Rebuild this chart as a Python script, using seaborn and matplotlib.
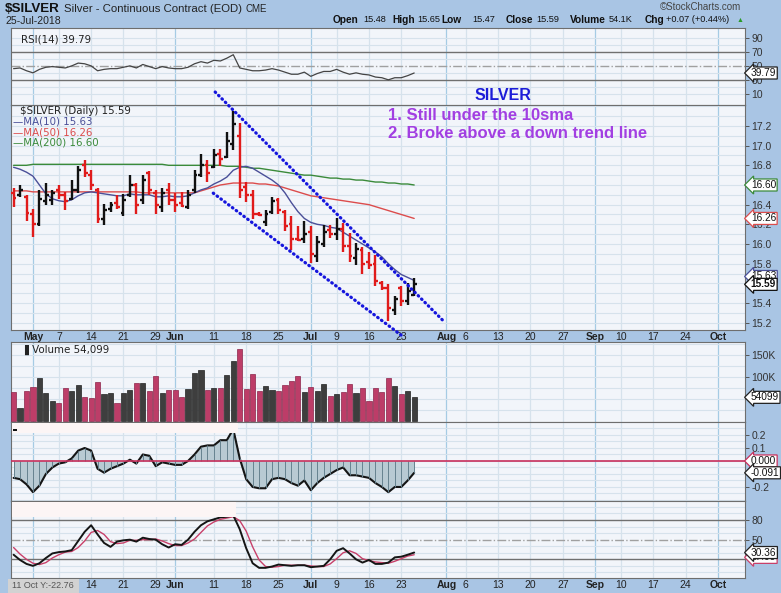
import numpy as np
import pandas as pd
import matplotlib
matplotlib.use("Agg")
import matplotlib.pyplot as plt
import matplotlib.transforms as mtransforms
from matplotlib.patches import Rectangle
import seaborn as sns

sns.set_theme(style="white")
plt.rcParams['font.family'] = ['Liberation Sans', 'DejaVu Sans']

# ---- data (Apr 26 .. Jul 25 2018, daily) ----
opens = [16.52, 16.50, 16.48, 16.30, 16.20, 16.44, 16.45, 16.55, 16.50, 16.46,
         16.55, 16.80, 16.70, 16.55, 16.25, 16.36, 16.42, 16.32, 16.50, 16.60,
         16.45, 16.72, 16.52, 16.38, 16.55, 16.45, 16.42, 16.38, 16.55, 16.70,
         16.80, 16.78, 16.92, 16.88, 17.02, 17.10, 16.58, 16.50, 16.31, 16.22,
         16.33, 16.45, 16.33, 16.20, 16.05, 16.05, 16.12, 15.88, 16.00, 16.14,
         16.10, 16.15, 15.98, 15.86, 15.94, 15.82, 15.80, 15.60, 15.55, 15.33,
         15.55, 15.42, 15.48]
highs = [16.57, 16.60, 16.50, 16.36, 16.55, 16.62, 16.55, 16.60, 16.53, 16.65,
         16.79, 16.85, 16.75, 16.57, 16.41, 16.43, 16.50, 16.51, 16.70, 16.62,
         16.70, 16.74, 16.55, 16.57, 16.62, 16.52, 16.53, 16.55, 16.75, 16.92,
         16.85, 16.97, 16.97, 17.14, 17.35, 17.23, 16.63, 16.55, 16.33, 16.35,
         16.48, 16.47, 16.35, 16.28, 16.18, 16.23, 16.18, 16.08, 16.19, 16.19,
         16.26, 16.21, 16.11, 16.01, 15.97, 15.92, 15.89, 15.62, 15.59, 15.47,
         15.57, 15.60, 15.65]
lows = [16.38, 16.48, 16.23, 16.07, 16.18, 16.40, 16.40, 16.46, 16.35, 16.45,
        16.52, 16.68, 16.55, 16.21, 16.19, 16.33, 16.36, 16.28, 16.48, 16.31,
        16.41, 16.50, 16.31, 16.33, 16.40, 16.33, 16.38, 16.36, 16.52, 16.68,
        16.63, 16.77, 16.79, 16.87, 16.96, 16.47, 16.43, 16.25, 16.28, 16.18,
        16.30, 16.30, 16.13, 15.94, 16.03, 16.01, 15.81, 15.82, 15.97, 16.06,
        16.04, 15.92, 15.82, 15.79, 15.70, 15.75, 15.57, 15.53, 15.22, 15.28,
        15.37, 15.38, 15.47]
closes = [16.47, 16.55, 16.32, 16.20, 16.46, 16.50, 16.52, 16.50, 16.44, 16.55,
          16.75, 16.72, 16.60, 16.25, 16.35, 16.40, 16.38, 16.45, 16.60, 16.40,
          16.65, 16.55, 16.40, 16.52, 16.45, 16.40, 16.39, 16.50, 16.70, 16.80,
          16.72, 16.90, 16.86, 17.05, 17.22, 16.55, 16.50, 16.30, 16.29, 16.31,
          16.44, 16.35, 16.18, 16.05, 16.04, 16.10, 15.90, 16.02, 16.12, 16.10,
          16.15, 15.98, 15.88, 15.95, 15.80, 15.79, 15.62, 15.55, 15.35, 15.44,
          15.42, 15.52, 15.59]
up_day = [0, 1, 0, 0, 1, 1, 1, 0, 0, 1, 1, 0, 0, 0, 1, 1, 0, 1, 1, 0,
          1, 0, 0, 1, 0, 0, 0, 1, 1, 1, 0, 1, 0, 1, 1, 0, 0, 0, 0, 1,
          1, 0, 0, 0, 0, 1, 0, 1, 1, 0, 1, 0, 0, 1, 0, 0, 0, 0, 0, 1,
          0, 1, 1]
volume_k = [66.7, 30, 69, 77, 97, 65, 45, 42, 76, 69, 82, 55, 52, 89, 61, 63, 42, 63,
            71, 86, 86, 69, 102, 63, 71, 71, 55, 73, 109, 117, 71, 75, 75, 105, 136,
            163, 73, 107, 69, 79, 71, 69, 82, 92, 102, 67, 77, 69, 84, 57, 61, 67, 84,
            63, 75, 45, 75, 67, 98, 79, 61, 69, 54.1]
ma10 = [16.78, 16.76, 16.73, 16.69, 16.60, 16.51, 16.46, 16.44, 16.43, 16.45,
        16.49, 16.52, 16.53, 16.52, 16.51, 16.50, 16.49, 16.49, 16.51, 16.50,
        16.50, 16.50, 16.48, 16.48, 16.49, 16.48, 16.48, 16.49, 16.52, 16.55,
        16.57, 16.61, 16.64, 16.68, 16.75, 16.78, 16.79, 16.77, 16.73, 16.69,
        16.65, 16.60, 16.52, 16.42, 16.33, 16.26, 16.22, 16.20, 16.19, 16.17,
        16.16, 16.12, 16.08, 16.04, 16.00, 15.96, 15.92, 15.87, 15.80, 15.74,
        15.69, 15.66, 15.63]
ma50 = [16.54, 16.54, 16.54, 16.53, 16.53, 16.53, 16.53, 16.53, 16.53, 16.53,
        16.53, 16.53, 16.53, 16.53, 16.53, 16.53, 16.53, 16.53, 16.53, 16.53,
        16.52, 16.52, 16.52, 16.52, 16.52, 16.52, 16.52, 16.52, 16.52, 16.54,
        16.56, 16.58, 16.60, 16.61, 16.62, 16.62, 16.62, 16.62, 16.61, 16.61,
        16.60, 16.59, 16.57, 16.55, 16.53, 16.51, 16.49, 16.48, 16.47, 16.46,
        16.45, 16.44, 16.43, 16.42, 16.41, 16.40, 16.38, 16.36, 16.34, 16.32,
        16.30, 16.28, 16.26]
ma200 = [16.80, 16.80, 16.80, 16.81, 16.81, 16.81, 16.81, 16.81, 16.81, 16.81,
         16.81, 16.81, 16.81, 16.81, 16.81, 16.81, 16.81, 16.81, 16.81, 16.81,
         16.81, 16.81, 16.81, 16.81, 16.80, 16.80, 16.80, 16.80, 16.80, 16.80,
         16.80, 16.80, 16.80, 16.79, 16.79, 16.79, 16.78, 16.77, 16.77, 16.76,
         16.75, 16.74, 16.73, 16.72, 16.71, 16.70, 16.70, 16.69, 16.68, 16.67,
         16.67, 16.66, 16.66, 16.65, 16.65, 16.64, 16.63, 16.63, 16.62, 16.62,
         16.61, 16.61, 16.60]
rsi = [46, 47, 43, 40, 45, 48, 49, 48, 47, 50, 54, 53, 50, 43, 45, 46, 46, 48, 50, 47,
       52, 49, 46, 49, 47, 46, 46, 48, 53, 56, 54, 58, 57, 61, 66, 47, 45, 43, 43, 44,
       46, 44, 41, 38, 38, 41, 35, 39, 42, 42, 45, 41, 38, 40, 38, 37, 34, 33, 30, 33,
       33, 36, 39.79]
osc = [-0.13, -0.14, -0.18, -0.24, -0.19, -0.10, -0.05, -0.02, -0.01, 0.02, 0.08, 0.10,
       0.08, -0.06, -0.09, -0.06, -0.04, -0.02, 0.01, -0.02, 0.05, 0.04, -0.04, -0.01,
       -0.02, -0.03, -0.03, 0.00, 0.05, 0.11, 0.12, 0.12, 0.16, 0.16, 0.245, 0.02, -0.14,
       -0.20, -0.21, -0.21, -0.14, -0.13, -0.14, -0.17, -0.19, -0.15, -0.225, -0.17, -0.13,
       -0.10, -0.07, -0.05, -0.11, -0.11, -0.12, -0.13, -0.17, -0.20, -0.24, -0.20, -0.20,
       -0.15, -0.091]
stoch_k = [27, 19, 13, 10, 14, 22, 29, 31, 32, 34, 48, 62, 72, 58, 45, 39, 47, 49, 50, 47,
           53, 51, 50, 43, 38, 43, 42, 50, 62, 72, 78, 81, 84, 85, 87, 66, 37, 14, 7, 7,
           9, 12, 11, 10, 11, 11, 8, 9, 10, 20, 33, 37, 29, 20, 15, 19, 13, 13, 15, 23,
           24, 27, 30.36]
stoch_d = [38, 28, 20, 14, 12, 15, 22, 27, 31, 32, 38, 48, 61, 64, 58, 47, 44, 45, 49, 49,
           50, 50, 51, 48, 44, 41, 41, 45, 51, 61, 71, 77, 81, 83, 85, 79, 63, 39, 19, 9,
           8, 9, 11, 11, 11, 11, 10, 9, 9, 13, 21, 30, 33, 29, 21, 18, 16, 15, 14, 17,
           21, 25, 27]

tick_dates = ["2018-05-01", "2018-05-07", "2018-05-14", "2018-05-21", "2018-05-29",
              "2018-06-01", "2018-06-11", "2018-06-18", "2018-06-25", "2018-07-02",
              "2018-07-09", "2018-07-16", "2018-07-23", "2018-08-01", "2018-08-06",
              "2018-08-13", "2018-08-20", "2018-08-27", "2018-09-04", "2018-09-10",
              "2018-09-17", "2018-09-24", "2018-10-01"]
tick_labels = ["May", "7", "14", "21", "29", "Jun", "11", "18", "25", "Jul", "9", "16",
               "23", "Aug", "6", "13", "20", "27", "Sep", "10", "17", "24", "Oct"]
holidays = ["2018-05-28", "2018-07-04", "2018-09-03"]

# trend channel drawn on the chart (bar index, price)
upper_line = ([31.2, 66.6], [17.545, 15.213])
lower_line = ([30.9, 60.1], [16.517, 15.068])

# ---- styling ----
BG = '#a9c5e4'
FACE = '#f2f5fa'
WEEK_GRID = '#d6e2ec'
MONTH_GRID = '#a5cbe4'
UP_C, DN_C = '#111111', '#e01b1b'
VUP_C, VDN_C = '#3e3e3e', '#bd3d68'
MA10_C, MA50_C, MA200_C = '#4a4f98', '#dc4c4c', '#3a8a3a'
SPINE = '#6e6e6e'

days = pd.bdate_range("2018-04-26", "2018-10-12")
days = days[~days.isin(pd.to_datetime(holidays))]
tick_pos = [days.get_loc(pd.Timestamp(d)) for d in tick_dates]
is_month = [not t.isdigit() for t in tick_labels]
xs = np.arange(len(closes))
XLIM = (-0.4, 113.2)

W, H = 781, 593
fig = plt.figure(figsize=(W / 100, H / 100), dpi=100)
fig.patch.set_facecolor(BG)


def fx(x):
    return x / W


def fy(y):
    return 1 - y / H


def panel(top, bot, ylim, yticks, yticklabels):
    ax = fig.add_axes([fx(11), fy(bot), fx(745) - fx(11), (bot - top) / H])
    ax.set_facecolor(FACE)
    ax.set_xlim(*XLIM)
    ax.set_ylim(*ylim)
    for p, m in zip(tick_pos, is_month):
        ax.axvline(p, color=MONTH_GRID if m else WEEK_GRID, lw=0.9, zorder=0)
    ax.yaxis.tick_right()
    ax.set_yticks(yticks)
    ax.set_yticklabels(yticklabels)
    ax.tick_params(axis='y', length=3, width=0.7, color='#555', pad=1.5,
                   labelsize=7.5, labelcolor='#333')
    ax.set_xticks([])
    for s in ax.spines.values():
        s.set_color(SPINE)
        s.set_linewidth(0.8)
    return ax


def hgrid(ax, vals, color=WEEK_GRID, lw=0.8, ls='-'):
    for v in vals:
        ax.axhline(v, color=color, lw=lw, ls=ls, zorder=0.5)


def date_axis(ax, skip=0):
    ax.set_xticks(tick_pos[skip:])
    ax.set_xticklabels(tick_labels[skip:])
    ax.tick_params(axis='x', length=0, pad=1.5, labelsize=7.5, labelcolor='#222')
    for lab, m in zip(ax.get_xticklabels(), is_month[skip:]):
        if m:
            lab.set_fontweight('bold')


def tag(ax, val, text, ec, bold=False, z=6):
    tr = mtransforms.blended_transform_factory(ax.transAxes, ax.transData)
    ax.text(1.008, val, text, transform=tr, ha='left', va='center', fontsize=7.3,
            color='#111', fontweight='bold' if bold else 'normal', clip_on=False, zorder=z,
            bbox=dict(boxstyle='larrow,pad=0.1', fc='white', ec=ec, lw=0.9))


def no_labels(ax):
    ax.set_xlabel('')
    ax.set_ylabel('')


# ---- RSI ----
ax_rsi = panel(28, 105, (-6.1, 104.3), [90, 70, 50, 30, 10], ['90', '70', '50', '30', '10'])
hgrid(ax_rsi, [10, 20, 40, 60, 80, 90])
hgrid(ax_rsi, [70, 30], color='#707070', lw=1.0)
hgrid(ax_rsi, [50], color='#a0a0a0', lw=1.0, ls='-.')
sns.lineplot(x=xs, y=rsi, ax=ax_rsi, color='#444444', linewidth=0.9, legend=False)
no_labels(ax_rsi)
ax_rsi.set_xticks([])
tag(ax_rsi, rsi[-1], '39.79', '#222')
ax_rsi.text(0.013, 0.92, 'RSI(14) 39.79', transform=ax_rsi.transAxes, ha='left', va='top',
            fontsize=7.4, family='DejaVu Sans', color='#222')

# ---- price ----
# labels at 15.6 and 16.6 sit under the value tags, as on the original
price_ticks = [15.2, 15.4, 15.8, 16.0, 16.2, 16.4, 16.8, 17.0, 17.2]
ax_p = panel(105, 330, (15.126, 17.413), price_ticks, ['%.1f' % v for v in price_ticks])
hgrid(ax_p, np.arange(15.2, 17.45, 0.1))
bar_c = [UP_C if u else DN_C for u in up_day]
ax_p.vlines(xs, lows, highs, colors=bar_c, lw=1.7, zorder=4)
ax_p.hlines(opens, xs - 0.45, xs, colors=bar_c, lw=1.7, zorder=4)
ax_p.hlines(closes, xs, xs + 0.45, colors=bar_c, lw=1.7, zorder=4)
sns.lineplot(x=xs, y=ma200, ax=ax_p, color=MA200_C, linewidth=1.0, legend=False)
sns.lineplot(x=xs, y=ma50, ax=ax_p, color=MA50_C, linewidth=1.0, legend=False)
sns.lineplot(x=xs, y=ma10, ax=ax_p, color=MA10_C, linewidth=1.0, legend=False)
no_labels(ax_p)
date_axis(ax_p)
for line in (upper_line, lower_line):
    ax_p.plot(line[0], line[1], color='#1515dd', lw=2.3, ls=(0, (0.2, 1.3)),
              dash_capstyle='round', clip_on=False, zorder=7)
tag(ax_p, ma200[-1], '16.60', MA200_C)
tag(ax_p, ma50[-1], '16.26', MA50_C)
tag(ax_p, ma10[-1] + 0.04, '15.63', MA10_C, z=5)
tag(ax_p, closes[-1], '15.59', '#111', bold=True, z=7)
lab_kw = dict(transform=ax_p.transAxes, ha='left', va='center', fontsize=7.4, family='DejaVu Sans')
ax_p.text(0.012, 1 - 6.5 / 225, '$SILVER (Daily) 15.59', color='#222', **lab_kw)
ax_p.text(0.003, 1 - 16.8 / 225, '\u2014MA(10) 15.63', color=MA10_C, **lab_kw)
ax_p.text(0.003, 1 - 27.3 / 225, '\u2014MA(50) 16.26', color=MA50_C, **lab_kw)
ax_p.text(0.003, 1 - 37.7 / 225, '\u2014MA(200) 16.60', color=MA200_C, **lab_kw)

# ---- volume ----
ax_v = panel(342, 422, (-2, 180), [150, 100], ['150K', '100K'])
hgrid(ax_v, [25, 50, 75, 100, 125, 150, 175])
ax_v.bar(xs, volume_k, width=0.8, color=[VUP_C if u else VDN_C for u in up_day],
         edgecolor=['#222' if u else '#8c2449' for u in up_day], linewidth=0.5, zorder=3)
tag(ax_v, volume_k[-1], '54099', '#222')
ax_v.text(0.014, 0.9, '\u2590 Volume 54,099', transform=ax_v.transAxes, ha='left', va='center',
          fontsize=7.4, family='DejaVu Sans', color='#222')

# ---- oscillator ----
ax_m = panel(422, 501, (-0.308, 0.30), [0.2, 0.1, -0.2], ['0.2', '0.1', '-0.2'])
hgrid(ax_m, np.arange(-0.3, 0.31, 0.05))
ax_m.fill_between(xs, osc, 0, color='#b8cad3', lw=0, zorder=2)
ax_m.vlines(xs, 0, osc, color='#66828f', lw=0.7, zorder=2.5)
ax_m.axhline(0, color='#c8305c', lw=1.2, zorder=3)
sns.lineplot(x=xs, y=osc, ax=ax_m, color='#151515', linewidth=1.5, legend=False)
no_labels(ax_m)
ax_m.set_xticks([])
tag(ax_m, 0.0, '0.000', '#c8305c')
tag(ax_m, osc[-1], '-0.091', '#222')

# ---- stochastic ----
ax_s = panel(501, 578, (-8.5, 109), [80, 50, 20], ['80', '50', '20'])
hgrid(ax_s, [0, 10, 30, 40, 60, 70, 90, 100])
hgrid(ax_s, [80, 20], color='#707070', lw=1.0)
hgrid(ax_s, [50], color='#a0a0a0', lw=1.0, ls='-.')
sns.lineplot(x=xs, y=stoch_d, ax=ax_s, color='#c8406a', linewidth=1.0, legend=False)
sns.lineplot(x=xs, y=stoch_k, ax=ax_s, color='#151515', linewidth=1.4, legend=False)
no_labels(ax_s)
date_axis(ax_s, skip=2)  # the first two dates are under the cursor box
tag(ax_s, stoch_d[-1] - 4, '27.00', '#c8406a', z=5)
tag(ax_s, stoch_k[-1], '30.36', '#222', z=7)

# covered labels on the lower panels
fig.add_artist(Rectangle((fx(11.5), fy(433)), fx(226), 10.5 / H, transform=fig.transFigure,
                         fc='#fcf5f5', ec='none', zorder=10))
fig.add_artist(Rectangle((fx(12.5), fy(430.5)), fx(4), 1.5 / H, transform=fig.transFigure,
                         fc='#111', ec='none', zorder=11))
fig.add_artist(Rectangle((fx(11.5), fy(517)), fx(224), 15.5 / H, transform=fig.transFigure,
                         fc='#fcf5f5', ec='none', zorder=10))
fig.add_artist(Rectangle((fx(8), fy(593)), fx(71), 14 / H, transform=fig.transFigure,
                         fc='#d2d2d2', ec='none', zorder=10))
fig.text(fx(12), fy(586), '11 Oct Y:-22.76', fontsize=6.5, color='#555', va='center',
         ha='left', zorder=11)

# ---- header ----
fig.text(fx(5), fy(8.5), '$SILVER', fontsize=9.6, fontweight='bold', va='center', color='#111')
fig.text(fx(64), fy(8.5), 'Silver - Continuous Contract (EOD)', fontsize=8.2, va='center',
         color='#222')
fig.text(fx(246), fy(9), 'CME', fontsize=7, va='center', color='#222')
fig.text(fx(5), fy(21.5), '25-Jul-2018', fontsize=7.6, va='center', color='#222')
fig.text(fx(660), fy(6.5), '\u00a9StockCharts.com', fontsize=7, va='center', color='#444')
quote = [(333, 'Open', True), (363, '15.48', False), (392, 'High', True),
         (417, '15.65', False), (441, 'Low', True), (472, '15.47', False),
         (506, 'Close', True), (536, '15.59', False), (570, 'Volume', True),
         (609, '54.1K', False), (645, 'Chg', True), (666, '+0.07 (+0.44%)', False)]
for x, s, b in quote:
    fig.text(fx(x), fy(20), s, fontsize=7.3 if b else 6.6, fontweight='bold' if b else 'normal',
             va='center', color='#111')
fig.text(fx(737), fy(20), '\u25b2', fontsize=5, va='center', color='#2a9a2a')

# ---- notes written on the chart ----
fig.text(fx(503), fy(95), 'SILVER', fontsize=11.5, fontweight='bold', color='#1c1cd8',
         ha='center', va='center', zorder=12)
fig.text(fx(388), fy(115), '1. Still under the 10sma', fontsize=12, fontweight='bold',
         color='#a23fe2', ha='left', va='center', zorder=12)
fig.text(fx(388), fy(134), '2. Broke above a down trend line', fontsize=12,
         fontweight='bold', color='#a23fe2', ha='left', va='center', zorder=12)

fig.savefig('out.png', dpi=100, facecolor=BG)
